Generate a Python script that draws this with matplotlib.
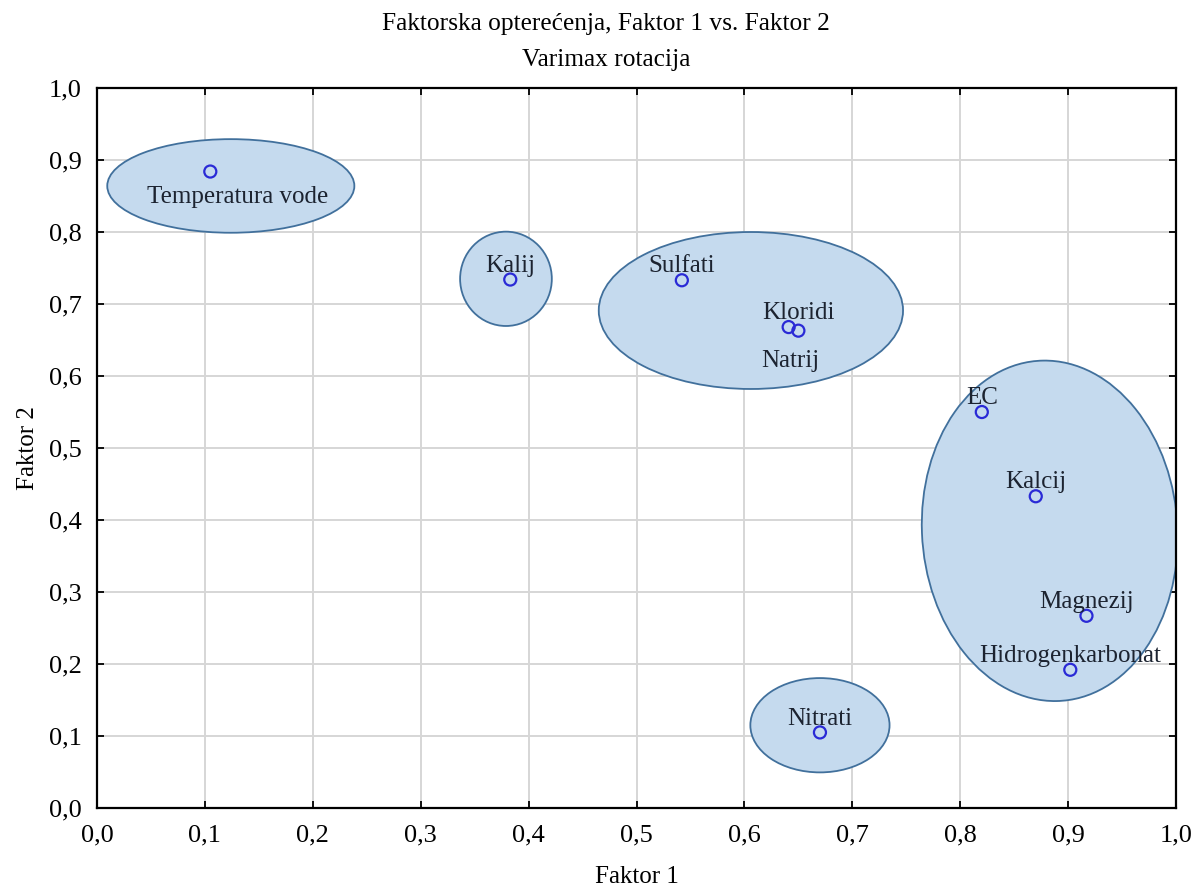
import numpy as np
import matplotlib
matplotlib.use("Agg")
import matplotlib.pyplot as plt
from matplotlib.patches import Ellipse

plt.rcParams['font.family'] = ['Liberation Serif', 'DejaVu Serif']

# factor loadings (Varimax)
names = ['Temperatura vode', 'Kalij', 'Sulfati', 'Kloridi', 'Natrij',
         'EC', 'Kalcij', 'Magnezij', 'Hidrogenkarbonat', 'Nitrati']
faktor1 = [0.105, 0.383, 0.542, 0.641, 0.650, 0.820, 0.870, 0.917, 0.902, 0.670]
faktor2 = [0.884, 0.734, 0.733, 0.668, 0.663, 0.550, 0.433, 0.267, 0.192, 0.105]

# groups drawn as ellipses: centre x, centre y, width, height, angle
grp_cx = [0.124, 0.379, 0.606, 0.883, 0.670]
grp_cy = [0.864, 0.735, 0.691, 0.385, 0.115]
grp_w = [0.229, 0.085, 0.282, 0.237, 0.129]
grp_h = [0.130, 0.131, 0.218, 0.473, 0.131]
grp_ang = [0, 0, 0, 1.5, 0]

# label offsets in points (dx, dy)
offsets = {
    'Temperatura vode': (20, -18),
    'Kloridi': (7, 10),
    'Natrij': (-6, -22),
}

fig = plt.figure(figsize=(12.02, 8.90), dpi=100)
ax = fig.add_axes([0.0807, 0.0921, 0.8977, 0.8090])

for cx, cy, w, h, a in zip(grp_cx, grp_cy, grp_w, grp_h, grp_ang):
    ax.add_patch(Ellipse((cx, cy), w, h, angle=a, facecolor='#c5daee',
                         edgecolor='#41709c', lw=1.3, zorder=2))

ax.scatter(faktor1, faktor2, s=75, facecolors='none', edgecolors='#2a2ad6',
           linewidths=1.6, zorder=4)

for n, x, y in zip(names, faktor1, faktor2):
    dx, dy = offsets.get(n, (0, 10))
    ax.annotate(n, (x, y), xytext=(dx, dy), textcoords='offset points',
                ha='center', va='center', fontsize=18, color='#1c2330', zorder=5)

ax.set_xlim(0, 1)
ax.set_ylim(0, 1)
ticks = np.arange(0, 1.01, 0.1)
ax.set_xticks(ticks)
ax.set_yticks(ticks)
ax.set_xticklabels([f'{t:.1f}'.replace('.', ',') for t in ticks])
ax.set_yticklabels([f'{t:.1f}'.replace('.', ',') for t in ticks])
ax.tick_params(direction='in', length=5, width=1.3, top=True, right=True,
               labelsize=19)
ax.tick_params(axis='x', pad=12)
ax.tick_params(axis='y', pad=11)
ax.grid(True, color='#d6d6d6', lw=1.4, zorder=0)
ax.set_axisbelow(True)
for sp in ax.spines.values():
    sp.set_linewidth(1.6)

ax.set_ylabel('Faktor 2', fontsize=18, labelpad=7)
fig.text(0.530, 0.0145, 'Faktor 1', ha='center', va='center', fontsize=18)
fig.text(0.504, 0.973, 'Faktorska opterećenja, Faktor 1 vs. Faktor 2',
         ha='center', va='center', fontsize=18.3)
fig.text(0.504, 0.933, 'Varimax rotacija', ha='center', va='center', fontsize=18.3)

fig.savefig('out.png', dpi=100)
